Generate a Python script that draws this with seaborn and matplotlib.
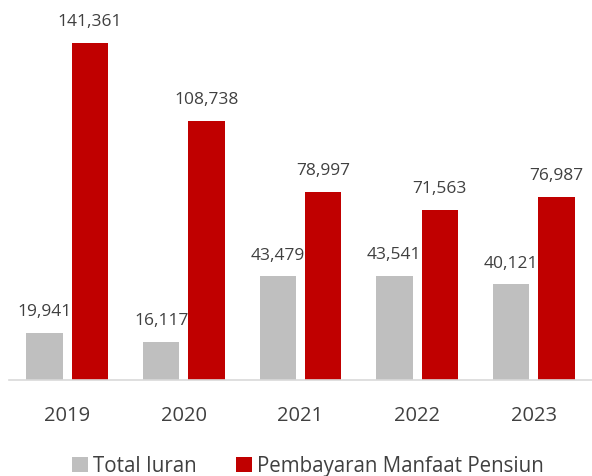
import matplotlib
matplotlib.use("Agg")
import matplotlib.pyplot as plt
import seaborn as sns
import pandas as pd
from matplotlib.patches import Patch

years = ["2019", "2020", "2021", "2022", "2023"]
total_iuran = [19941, 16117, 43479, 43541, 40121]
pembayaran = [141361, 108738, 78997, 71563, 76987]
series_names = ["Total Iuran", "Pembayaran Manfaat Pensiun"]
colors = ["#BFBFBF", "#C00000"]

df = pd.DataFrame({
    "Tahun": years * 2,
    "Nilai": total_iuran + pembayaran,
    "Seri": [series_names[0]] * len(years) + [series_names[1]] * len(years),
})

sns.set_style("white")
plt.rcParams["font.family"] = ["Open Sans", "DejaVu Sans"]

fig = plt.figure(figsize=(5.92, 4.77), dpi=100)
ax = fig.add_axes([9 / 592, (477 - 381) / 477, 1 - 9 / 592, 381 / 477])

sns.barplot(data=df, x="Tahun", y="Nilai", hue="Seri", palette=colors,
            width=0.78, gap=0.2, ax=ax, legend=False, saturation=1,
            linewidth=0, edgecolor="none")

ax.set_ylim(0, 160000)
ax.set_xlim(-0.5, 4.5)
for s in ["top", "right", "left"]:
    ax.spines[s].set_visible(False)
ax.spines["bottom"].set_color("#D9D9D9")
ax.spines["bottom"].set_linewidth(1.2)
ax.set_yticks([])
ax.set_xlabel("")
ax.set_ylabel("")
ax.tick_params(axis="x", length=0, labelsize=14.5, labelcolor="#404040", pad=18)

for cont in ax.containers:
    labels = [f"{int(round(b.get_height())):,}" for b in cont]
    ax.bar_label(cont, labels=labels, padding=10, fontsize=12.5, color="#404040")

handles = [Patch(facecolor=c, edgecolor="none") for c in colors]
fig.legend(handles, series_names, loc="center", bbox_to_anchor=(308 / 592, (477 - 467) / 477),
           ncol=2, frameon=False, fontsize=14.8, labelcolor="#404040",
           handlelength=0.78, handleheight=0.78, handletextpad=0.25, columnspacing=1.9)

fig.savefig("out.png", dpi=100)
